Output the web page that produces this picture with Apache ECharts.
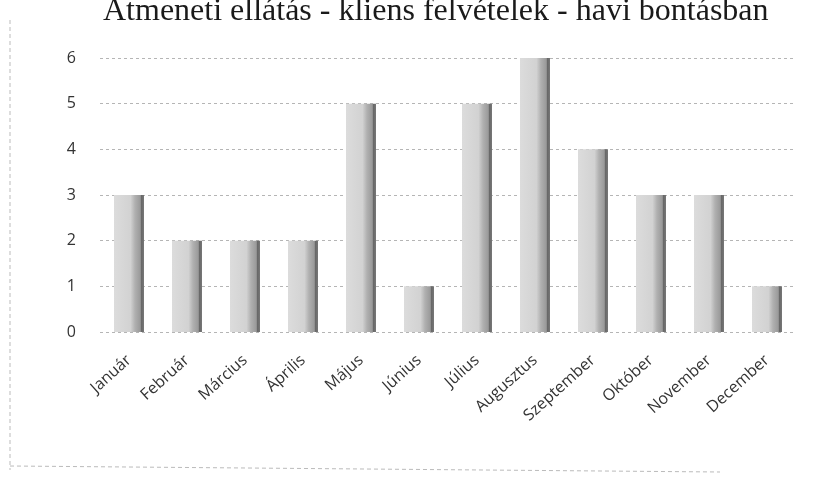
<!DOCTYPE html>
<html><head><meta charset="utf-8">
<script src="https://cdn.jsdelivr.net/npm/echarts@6/dist/echarts.min.js"></script>
<style>html,body{margin:0;padding:0;background:#fff}#c{width:830px;height:486px}</style>
</head><body><div id="c"></div>
<script>
const categories = ['Január','Február','Március','Április','Május','Június','Július','Augusztus','Szeptember','Október','November','December'];
const values = [3,2,2,2,5,1,5,6,4,3,3,1];
const yTicks = [0,1,2,3,4,5,6];
const titleText = 'Átmeneti ellátás - kliens felvételek - havi bontásban';

const chart = echarts.init(document.getElementById('c'));
chart.setOption({
  backgroundColor:'#fff',
  animation:false,
  title:{text:titleText,left:98,top:-9,textStyle:{fontFamily:'Liberation Serif',fontWeight:'normal',fontSize:32,color:'#1a1a1a'}},
  graphic:[
    {type:'line',shape:{x1:10,y1:20,x2:10,y2:470},style:{stroke:'#bbb',lineWidth:1,lineDash:[4,3]}},
    {type:'line',shape:{x1:10,y1:466,x2:720,y2:472},style:{stroke:'#bbb',lineWidth:1,lineDash:[4,3]}}
  ],
  grid:{left:100,right:34,top:58,bottom:154,containLabel:false},
  xAxis:{type:'category',data:categories,
    axisLine:{show:false},axisTick:{show:false},
    axisLabel:{rotate:42,interval:0,fontFamily:'Open Sans',fontSize:16,color:'#333',margin:26}},
  yAxis:{type:'value',min:0,max:6,interval:1,
    axisLine:{show:false},axisTick:{show:false},
    axisLabel:{fontFamily:'Open Sans',fontSize:16,color:'#333',margin:24,
      formatter:v=>yTicks.includes(v)?String(v):''},
    splitLine:{lineStyle:{color:'#b5b5b5',type:[3,3],width:1}}},
  series:[{type:'bar',data:values,barWidth:30,
    itemStyle:{color:new echarts.graphic.LinearGradient(0,0,1,0,[
      {offset:0,color:'#dcdcdc'},{offset:0.55,color:'#d2d2d2'},{offset:0.7,color:'#b0b0b0'},{offset:0.88,color:'#999'},{offset:0.9,color:'#666'},{offset:1,color:'#777'}])}}]
});
</script></body></html>
